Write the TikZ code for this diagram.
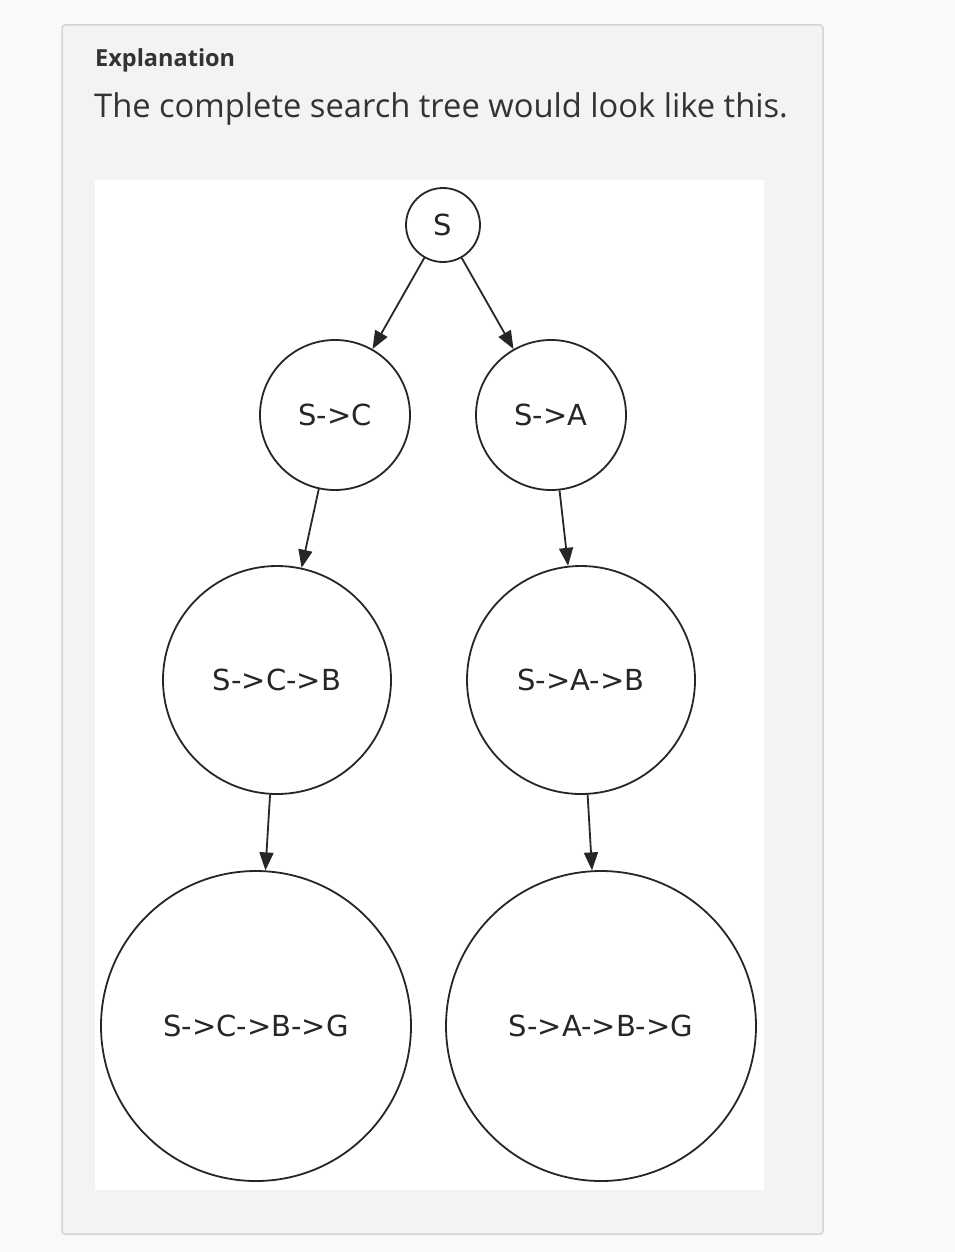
\documentclass[tikz,border=0pt]{standalone}
\usepackage{fontspec}
\setmainfont{Open Sans}
\newfontfamily\graphfont{DejaVu Sans}
\usetikzlibrary{shapes,arrows,positioning,calc,arrows.meta}
\definecolor{pagebg}{HTML}{F9F9F9}
\definecolor{panelbg}{HTML}{F3F3F3}
\definecolor{panelline}{HTML}{D4D4D4}
\definecolor{textdark}{HTML}{333333}
\begin{document}
\begin{tikzpicture}[x=1pt, y=-1pt,
    tree node/.style={draw=black!85, circle, line width=1.8pt, inner sep=0pt, align=center, font=\graphfont\fontsize{29}{33}\selectfont, text=black!85},
    tree edge/.style={draw=black!85, line width=1.8pt, -{Triangle[length=18pt, width=14pt]}}]
    % Page and panel
    \fill[pagebg] (0,0) rectangle (955,1252);
    \useasboundingbox (0,0) rectangle (955,1252);
    \draw[panelline, fill=panelbg, line width=1.5pt, rounded corners=3pt] (62,25) rectangle (823,1234);
    \fill[white] (95,180) rectangle (764,1190);

    % Heading texts
    \node[anchor=base west, inner sep=0pt, text=textdark, font=\bfseries\fontsize{23.5}{28}\selectfont] (heading) at (95,67) {Explanation};
    \node[anchor=base west, inner sep=0pt, text=textdark, font=\fontsize{32.7}{38}\selectfont] (caption) at (94,118) {The complete search tree would look like this.};

    % Search tree nodes
    \node[tree node, minimum size=74pt] (s) at (443,225) {S};
    \node[tree node, minimum size=150pt] (sc) at (335,415) {S->C};
    \node[tree node, minimum size=150pt] (sa) at (551,415) {S->A};
    \node[tree node, minimum size=228pt] (scb) at (277,680) {S->C->B};
    \node[tree node, minimum size=228pt] (sab) at (581,680) {S->A->B};
    \node[tree node, minimum size=310pt] (scbg) at (256,1026) {S->C->B->G};
    \node[tree node, minimum size=310pt] (sabg) at (601,1026) {S->A->B->G};

    % Edges
    \draw[tree edge] (s) -- (sc);
    \draw[tree edge] (s) -- (sa);
    \draw[tree edge] (sc) -- (scb);
    \draw[tree edge] (sa) -- (sab);
    \draw[tree edge] (scb) -- (scbg);
    \draw[tree edge] (sab) -- (sabg);
\end{tikzpicture}
\end{document}
